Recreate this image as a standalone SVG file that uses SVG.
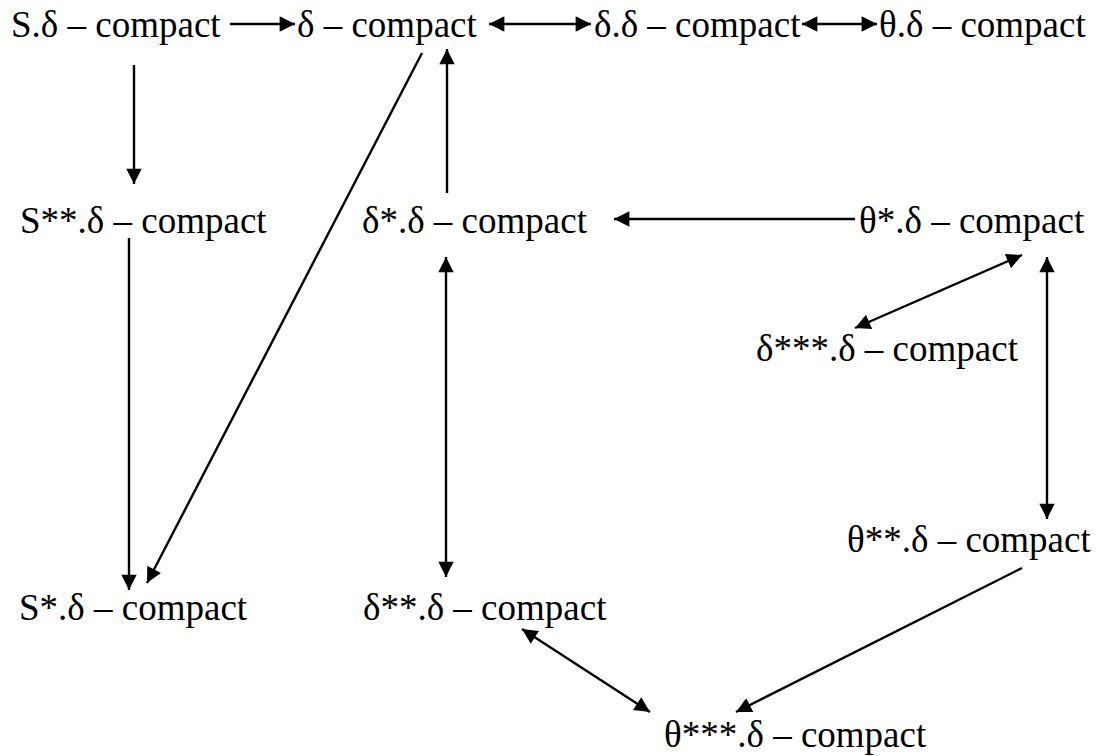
<svg xmlns="http://www.w3.org/2000/svg" width="1105" height="756" viewBox="0 0 1105 756">
<style>
text{font-family:"Liberation Serif","Times New Roman",serif;font-size:37px;fill:#000}
.c line{stroke:#000;stroke-width:2.4;fill:none}
</style>
<defs>
<marker id="ah" viewBox="0 0 10 10" refX="10" refY="5" markerWidth="6.6" markerHeight="6.4" markerUnits="strokeWidth" orient="auto-start-reverse">
<path d="M0,0 L10,5 L0,10 z" fill="#000"/>
</marker>
</defs>
<rect width="1105" height="756" fill="#fff"/>
<g class="c" id="connectors">
<line x1="230" y1="24" x2="295" y2="24" marker-end="url(#ah)"/>
<line x1="489" y1="24" x2="591" y2="24" marker-start="url(#ah)" marker-end="url(#ah)"/>
<line x1="802" y1="24" x2="877" y2="24" marker-start="url(#ah)" marker-end="url(#ah)"/>
<line x1="134" y1="65" x2="134" y2="184" marker-end="url(#ah)"/>
<line x1="129" y1="238" x2="129" y2="590" marker-end="url(#ah)"/>
<line x1="422" y1="53" x2="147" y2="583" marker-end="url(#ah)"/>
<line x1="447" y1="193" x2="447" y2="49" marker-end="url(#ah)"/>
<line x1="855" y1="219" x2="614" y2="219" marker-end="url(#ah)"/>
<line x1="446" y1="257" x2="446" y2="577" marker-start="url(#ah)" marker-end="url(#ah)"/>
<line x1="1022" y1="255" x2="855" y2="328" marker-start="url(#ah)" marker-end="url(#ah)"/>
<line x1="1047" y1="257" x2="1047" y2="519" marker-start="url(#ah)" marker-end="url(#ah)"/>
<line x1="1022" y1="568" x2="736" y2="712" marker-end="url(#ah)"/>
<line x1="522" y1="629" x2="650" y2="712" marker-start="url(#ah)" marker-end="url(#ah)"/>
</g>
<g id="n1"><text x="11" y="37">S.δ – compact</text></g>
<g id="n2"><text x="297" y="37">δ – compact</text></g>
<g id="n3"><text x="594" y="37">δ.δ – compact</text></g>
<g id="n4"><text x="879" y="37">θ.δ – compact</text></g>
<g id="n5"><text x="20" y="233">S**.δ – compact</text></g>
<g id="n6"><text x="362" y="233">δ*.δ – compact</text></g>
<g id="n7"><text x="859" y="233">θ*.δ – compact</text></g>
<g id="n8"><text x="756" y="361">δ***.δ – compact</text></g>
<g id="n9"><text x="847" y="552">θ**.δ – compact</text></g>
<g id="n10"><text x="19" y="620">S*.δ – compact</text></g>
<g id="n11"><text x="363" y="620">δ**.δ – compact</text></g>
<g id="n12"><text x="664" y="747">θ***.δ – compact</text></g>
</svg>
